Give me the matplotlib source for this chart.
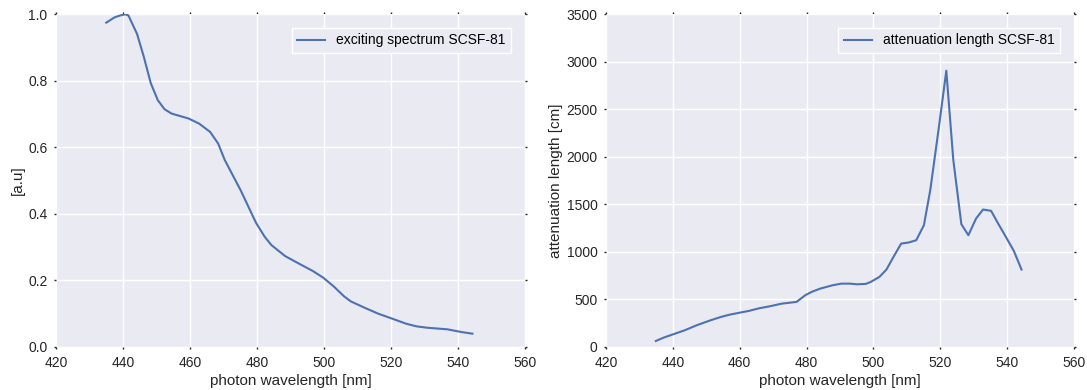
import matplotlib
matplotlib.use("Agg")
import matplotlib.pyplot as plt

# exciting spectrum
ex_wl = [435.0, 437.5, 439.3, 440.6, 441.6, 444.2, 446.2, 448.3, 450.4, 452.4, 454.5,
         459.6, 462.7, 466.0, 468.4, 470.4, 475.1, 479.7, 482.3, 484.3, 488.4, 492.6,
         496.7, 499.8, 502.9, 506.0, 508.0, 512.1, 516.2, 520.4, 524.5, 527.6, 530.7,
         536.9, 541.0, 544.3]
ex_val = [0.974, 0.990, 0.996, 0.999, 0.996, 0.940, 0.872, 0.792, 0.741, 0.714, 0.701,
          0.686, 0.671, 0.646, 0.611, 0.561, 0.471, 0.373, 0.331, 0.306, 0.273, 0.250,
          0.228, 0.208, 0.182, 0.152, 0.137, 0.118, 0.100, 0.085, 0.070, 0.062, 0.058,
          0.053, 0.045, 0.040]

# attenuation length
at_wl = [434.9, 437.2, 439.8, 443.5, 447.1, 451.3, 454.4, 457.0, 459.6, 462.7, 465.8,
         469.0, 472.6, 477.0, 479.6, 481.5, 484.1, 487.8, 490.4, 493.0, 495.1, 497.7,
         499.2, 501.8, 503.9, 506.0, 508.3, 510.5, 512.8, 515.1, 517.0, 519.6, 521.8,
         523.9, 526.3, 528.4, 530.7, 532.8, 535.2, 537.3, 539.9, 542.0, 544.3]
at_val = [63, 98, 130, 175, 228, 281, 316, 340, 358, 379, 407,
          428, 456, 474, 544, 579, 614, 649, 666, 666, 659, 663,
          684, 737, 814, 947, 1087, 1098, 1122, 1280, 1648, 2315, 2904,
          1964, 1291, 1175, 1350, 1445, 1431, 1298, 1140, 1010, 814]

plt.rcParams['font.family'] = ['Liberation Sans', 'DejaVu Sans']

W, H = 1087, 390
fig = plt.figure(figsize=(W / 100, H / 100), dpi=100)
fig.patch.set_facecolor('white')

bg = '#EAEAF2'
blue = '#4C72B0'
txt = '#262626'


def style(ax):
    ax.set_facecolor(bg)
    for s in ax.spines.values():
        s.set_visible(False)
    ax.grid(True, color='white', linewidth=1.0)
    ax.set_axisbelow(True)
    ax.tick_params(axis='both', which='both', direction='out', length=1.2, width=1.0,
                   color=txt, labelcolor=txt, labelsize=10, top=True, right=True, pad=5)


def legend(ax):
    ax.legend(loc='upper right', fontsize=10, frameon=True, fancybox=False,
              facecolor=bg, edgecolor='white', framealpha=1,
              borderaxespad=1.0, handlelength=2.0)


ax1 = fig.add_axes([56 / W, (H - 347) / H, (525 - 56) / W, (347 - 14) / H])
style(ax1)
ax1.plot(ex_wl, ex_val, color=blue, linewidth=1.5, label='exciting spectrum SCSF-81')
ax1.set_xlim(420, 560)
ax1.set_ylim(0, 1.0)
ax1.set_xlabel('photon wavelength [nm]', color=txt, fontsize=11, labelpad=3)
ax1.set_ylabel('[a.u]', color=txt, fontsize=11, labelpad=2)
legend(ax1)

ax2 = fig.add_axes([606 / W, (H - 347) / H, (1074 - 606) / W, (347 - 14) / H])
style(ax2)
ax2.plot(at_wl, at_val, color=blue, linewidth=1.5, label='attenuation length SCSF-81')
ax2.set_xlim(420, 560)
ax2.set_ylim(0, 3500)
ax2.set_xlabel('photon wavelength [nm]', color=txt, fontsize=11, labelpad=3)
ax2.set_ylabel('attenuation length [cm]', color=txt, fontsize=11, labelpad=2)
legend(ax2)

fig.savefig('out.png', dpi=100)
